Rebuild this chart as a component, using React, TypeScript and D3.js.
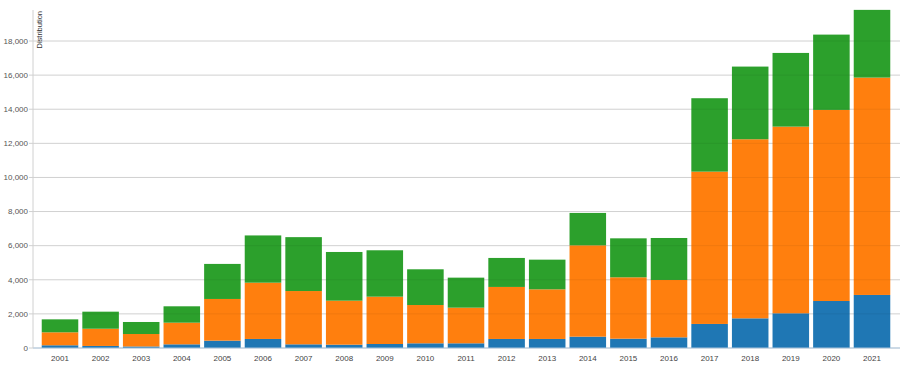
import React from "react";
import * as d3 from "d3";

const years = ["2001","2002","2003","2004","2005","2006","2007","2008","2009","2010","2011","2012","2013","2014","2015","2016","2017","2018","2019","2020","2021"];
// segment values (stacked bottom to top)
const blueVals = [160,120,90,215,430,530,215,195,235,275,275,530,530,665,545,625,1410,1740,2035,2755,3110];
const orangeVals = [760,1010,730,1270,2445,3300,3125,2580,2775,2245,2090,3050,2910,5355,3600,3365,8930,10500,10945,11205,12745];
const greenVals = [760,1000,705,960,2055,2770,3160,2855,2720,2095,1760,1700,1740,1900,2285,2460,4305,4260,4320,4415,3970];
const yTicks = [0,2000,4000,6000,8000,10000,12000,14000,16000,18000];
const seriesNames = ["blue","orange","green"];
const seriesColors = ["#1f77b4","#ff7f0e","#2ca02c"];

const W = 900, H = 372;

export default function App() {
  const rows = years.map((y, i) => ({ year: y, blue: blueVals[i], orange: orangeVals[i], green: greenVals[i] }));
  const stack = d3.stack<any>().keys(seriesNames)(rows);
  const x = d3.scaleBand().domain(years).range([39.7, 892.3]).paddingInner(0.1).paddingOuter(0.05);
  const y = d3.scaleLinear().domain([0, 18000]).range([348, 41]);
  const fmt = d3.format(",");
  const axisX = 33;
  return (
    <div style={{ position: "absolute", left: 0, top: 0 }}>
      <svg width={W} height={H} style={{ display: "block", fontFamily: "Liberation Sans, Arial, sans-serif" }}>
        {yTicks.map(t => (
          <line key={"g" + t} x1={axisX} x2={W} y1={y(t)} y2={y(t)} stroke="#dedede" strokeWidth={1} />
        ))}
        {stack.map((s, si) => (
          <g key={si} fill={seriesColors[si]}>
            {s.map((d, i) => (
              <rect key={i} x={x(years[i])} width={x.bandwidth()} y={y(d[1])} height={y(d[0]) - y(d[1])} />
            ))}
          </g>
        ))}
        {yTicks.filter(t => t > 0).map(t => (
          <line key={"o" + t} x1={axisX} x2={W} y1={y(t)} y2={y(t)} stroke="#000" strokeOpacity={0.06} strokeWidth={1} />
        ))}
        <line x1={axisX} x2={W} y1={y(0)} y2={y(0)} stroke="#a9c4dc" strokeWidth={1} />
        <line x1={axisX} x2={axisX} y1={10} y2={348} stroke="#d0d0d0" strokeWidth={1} />
        {yTicks.map(t => (
          <g key={"t" + t}>
            <line x1={axisX - 4} x2={axisX} y1={y(t)} y2={y(t)} stroke="#d0d0d0" />
            <text x={axisX - 5} y={y(t)} dy="0.35em" textAnchor="end" fontSize={8} fill="#555">{fmt(t)}</text>
          </g>
        ))}
        {years.map(yr => (
          <text key={yr} x={(x(yr) as number) + x.bandwidth() / 2} y={361} textAnchor="middle" fontSize={8} fill="#444">{yr}</text>
        ))}
        <text transform={`translate(42,11) rotate(-90)`} textAnchor="end" fontSize={7.5} fill="#333">Distribution</text>
      </svg>
    </div>
  );
}
